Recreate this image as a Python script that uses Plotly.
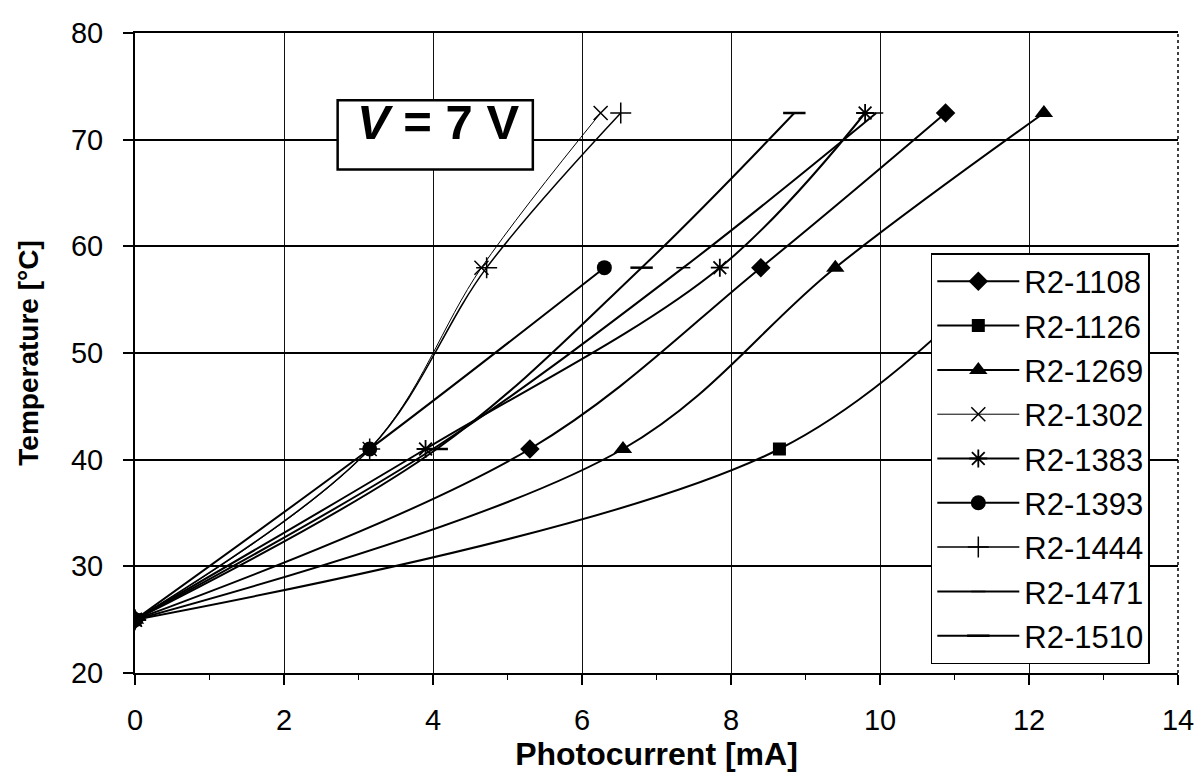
import plotly.graph_objects as go

# Temperature set points [°C]
temps_4 = [25, 41, 58, 72.5]
temps_3 = [25, 41, 58]

# Photocurrent [mA] of each sample at V = 7 V
samples = ["R2-1108", "R2-1126", "R2-1269", "R2-1302", "R2-1383",
           "R2-1393", "R2-1444", "R2-1471", "R2-1510"]
i_1108 = [0, 5.3, 8.4, 10.88]
i_1126 = [0, 8.65, 11.7]
i_1269 = [0, 6.55, 9.4, 12.2]
i_1302 = [0, 3.15, 4.65, 6.25]
i_1383 = [0, 3.9, 7.85, 9.8]
i_1393 = [0, 3.15, 6.3]
i_1444 = [0, 3.15, 4.72, 6.52]
i_1471 = [0, 4.0, 7.36, 9.95]
i_1510 = [0, 4.05, 6.8, 8.85]

x_ticks = [0, 2, 4, 6, 8, 10, 12, 14]
y_ticks = [20, 30, 40, 50, 60, 70, 80]

FONT = "Arial, Liberation Sans, sans-serif"
BLACK = "black"

series = [
    (samples[0], i_1108, temps_4, dict(symbol="diamond", size=15), 2),
    (samples[1], i_1126, temps_3, dict(symbol="square", size=13), 2),
    (samples[2], i_1269, temps_4, dict(symbol="triangle-up", size=16), 2),
    (samples[3], i_1302, temps_4, dict(symbol="x-thin", size=14,
                                       line=dict(width=1.5, color=BLACK)), 1),
    (samples[4], i_1383, temps_4, dict(symbol="asterisk", size=15,
                                       line=dict(width=1.8, color=BLACK)), 2),
    (samples[5], i_1393, temps_3, dict(symbol="circle", size=15), 2),
    (samples[6], i_1444, temps_4, dict(symbol="cross-thin", size=15,
                                       line=dict(width=1.5, color=BLACK)), 1.5),
    (samples[7], i_1471, temps_4, dict(symbol="line-ew", size=10,
                                       line=dict(width=1.5, color=BLACK)), 2),
    (samples[8], i_1510, temps_4, dict(symbol="line-ew", size=16,
                                       line=dict(width=2.5, color=BLACK)), 2),
]

fig = go.Figure()
for k, (name, xs, ys, mk, lw) in enumerate(series):
    mk = dict(mk)
    mk.setdefault("color", BLACK)
    fig.add_trace(go.Scatter(
        x=xs, y=ys, name=name, mode="lines+markers",
        line=dict(color=BLACK, width=lw, shape="spline", smoothing=1.0),
        marker=mk, legendgroup=f"g{k}", cliponaxis=True,
    ))

axis_font = dict(family=FONT, size=29, color=BLACK)

fig.update_layout(
    width=1201, height=772,
    margin=dict(l=135, r=23, t=33, b=99),
    paper_bgcolor="white", plot_bgcolor="white",
    font=dict(family=FONT, color=BLACK),
    showlegend=True,
    legend=dict(
        x=0.763, y=0.656, xanchor="left", yanchor="top",
        bgcolor="white", bordercolor=BLACK, borderwidth=1.5,
        font=dict(family=FONT, size=31, color=BLACK),
        itemwidth=82, tracegroupgap=1, traceorder="grouped",
    ),
    xaxis=dict(
        range=[0, 14], tickvals=x_ticks, ticktext=[str(v) for v in x_ticks],
        showgrid=True, gridcolor="#111", gridwidth=1,
        showline=True, linecolor=BLACK, linewidth=2, mirror=True,
        ticks="outside", ticklen=10, tickwidth=1.5, tickcolor=BLACK,
        minor=dict(dtick=1, tick0=0, ticks="outside", ticklen=5,
                   tickwidth=1.2, tickcolor=BLACK, showgrid=False),
        tickfont=axis_font, ticklabelstandoff=10,
        zeroline=False, automargin=False,
        title=dict(text="<b>Photocurrent [mA]</b>",
                   font=dict(family=FONT, size=32, color=BLACK), standoff=14),
    ),
    yaxis=dict(
        range=[20, 80], tickvals=y_ticks, ticktext=[str(v) for v in y_ticks],
        showgrid=True, gridcolor=BLACK, gridwidth=1.5,
        showline=True, linecolor=BLACK, linewidth=2, mirror=False,
        ticks="outside", ticklen=10, tickwidth=1.5, tickcolor=BLACK,
        tickfont=axis_font, ticklabelstandoff=14,
        zeroline=False, automargin=False,
        title=dict(text="<b>Temperature [°C]</b>",
                   font=dict(family=FONT, size=28, color=BLACK), standoff=24),
    ),
)

# right-hand frame edge, drawn dotted
fig.add_shape(type="line", xref="paper", yref="paper", x0=1, x1=1, y0=0, y1=1,
              line=dict(color=BLACK, width=1.5, dash="dot"), layer="above")

# bias voltage label box
fig.add_shape(type="rect", xref="x", yref="y", x0=2.72, x1=5.34, y0=67.2, y1=73.7,
              line=dict(color=BLACK, width=2.5), fillcolor="white", layer="above")
fig.add_annotation(x=4.07, y=71.7, xref="x", yref="y", showarrow=False,
                   text="<b><i>V</i> = 7 V</b>",
                   font=dict(family=FONT, size=49, color=BLACK))

fig.write_html("out.html")
